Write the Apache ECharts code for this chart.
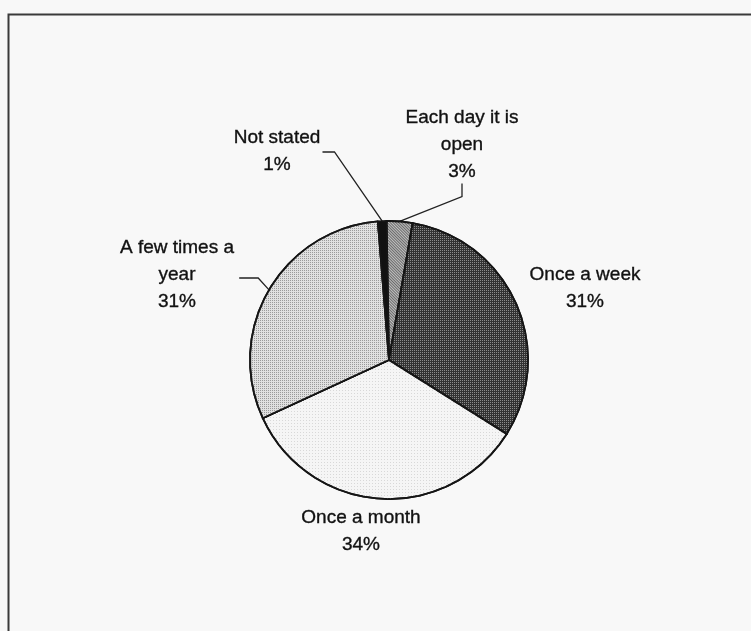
<!DOCTYPE html>
<html>
<head>
<meta charset="utf-8">
<script src="https://cdn.jsdelivr.net/npm/echarts@6/dist/echarts.min.js"></script>
<style>
html,body{margin:0;padding:0;background:#f8f8f8;}
#chart{width:751px;height:631px;}
</style>
</head>
<body>
<div id="chart"></div>
<script>
// ---- data ----
const categories = ['Each day it is\nopen', 'Once a week', 'Once a month', 'A few times a\nyear', 'Not stated'];
const values = [3.0, 31.2, 34.2, 30.6, 1.0];

// ---- label placement (text positions, centre of each label block) ----
const labelPlace = [
  { x: 462, y: 145, lead: 'below' },
  { x: 585, y: 288, lead: 'none' },
  { x: 361, y: 531, lead: 'none' },
  { x: 177, y: 275, lead: 'right', gap: 5, len: 19, dy: 3 },
  { x: 277, y: 151, lead: 'right', gap: 2, len: 12, dy: 1 }
];

// ---- slice styles ----
const sliceStyles = [
  { color: '#6a6a6a', decal: { symbol: 'rect', symbolSize: 1, color: '#c0c0c0', dashArrayX: [1, 0], dashArrayY: [1, 1], rotation: Math.PI / 4 } },
  { color: '#323232', decal: { symbol: 'rect', symbolSize: 1, color: '#8c8c8c', dashArrayX: [1, 1], dashArrayY: [1, 1], rotation: 0 } },
  { color: '#f5f5f5', decal: { symbol: 'rect', symbolSize: 1, color: '#d8d8d8', dashArrayX: [1, 2], dashArrayY: [1, 2], rotation: 0 } },
  { color: '#e0e0e0', decal: { symbol: 'rect', symbolSize: 1, color: '#9a9a9a', dashArrayX: [1, 1], dashArrayY: [1, 1], rotation: 0 } },
  { color: '#111111' }
];

const total = values.reduce((a, b) => a + b, 0);

const seriesData = categories.map((name, i) => ({
  name: name,
  value: values[i],
  itemStyle: Object.assign({ borderColor: '#151515', borderWidth: 1.8 }, sliceStyles[i]),
  labelLine: { show: labelPlace[i].lead !== 'none' }
}));

const chart = echarts.init(document.getElementById('chart'), null, { renderer: 'canvas' });

chart.setOption({
  animation: false,
  backgroundColor: '#f8f8f8',
  graphic: [{
    type: 'polyline',
    shape: { points: [[8.5, 631], [8.5, 14.5], [751, 14.5]] },
    style: { stroke: '#3a3a3a', lineWidth: 2, fill: null },
    silent: true
  }],
  series: [{
    type: 'pie',
    center: [389, 360],
    radius: 139,
    startAngle: 91,
    clockwise: true,
    avoidLabelOverlap: false,
    emphasis: { disabled: true },
    label: {
      show: true,
      position: 'outside',
      color: '#111',
      textBorderColor: '#111',
      textBorderWidth: 0.35,
      fontFamily: 'Liberation Sans, Arial, sans-serif',
      fontSize: 19,
      lineHeight: 27,
      overflow: 'none',
      formatter: function (p) {
        return p.name + '\n' + Math.round(p.value / total * 100) + '%';
      }
    },
    labelLine: {
      show: true,
      length: 20,
      length2: 10,
      smooth: false,
      lineStyle: { color: '#222', width: 1.3 }
    },
    labelLayout: function (p) {
      const pl = labelPlace[p.dataIndex];
      const w = p.labelRect.width, h = p.labelRect.height;
      const out = { x: pl.x, y: pl.y, align: 'center', verticalAlign: 'middle' };
      const e = p.labelLinePoints ? p.labelLinePoints[0] : null;
      if (e && pl.lead === 'below') {
        out.labelLinePoints = [e, [pl.x, pl.y + h / 2 + 11], [pl.x, pl.y + h / 2 - 2]];
      } else if (e && pl.lead === 'right') {
        out.labelLinePoints = [e, [pl.x + w / 2 + pl.gap + pl.len, pl.y + pl.dy], [pl.x + w / 2 + pl.gap, pl.y + pl.dy]];
      }
      return out;
    },
    data: seriesData
  }]
});
</script>
</body>
</html>
